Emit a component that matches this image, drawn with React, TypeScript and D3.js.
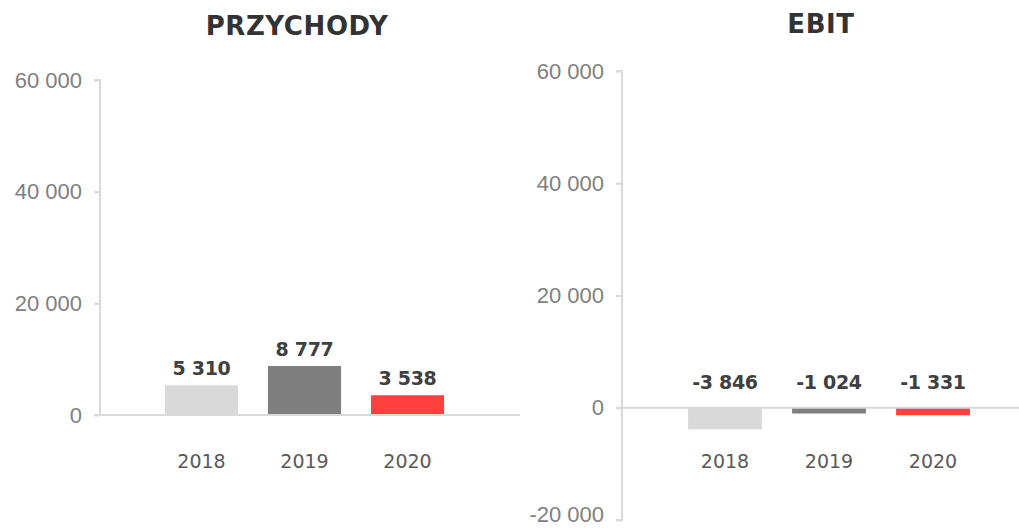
import React, { useEffect, useRef } from 'react'
import * as d3 from 'd3'

const years = ['2018', '2019', '2020']
const revenue = [5310, 8777, 3538]
const ebit = [-3846, -1024, -1331]
const revenueTicks = [0, 20000, 40000, 60000]
const ebitTicks = [-20000, 0, 20000, 40000, 60000]
const barColors = ['#d9d9d9', '#7f7f7f', '#ff4040']

const pl = d3.formatLocale({ decimal: ',', thousands: '\u00a0', grouping: [3], currency: ['', ''], minus: '-' })
const fmt = pl.format(',d')

const titleFont = '"DejaVu Sans", sans-serif'
const axisFont = '"Liberation Sans", Arial, sans-serif'

type PanelCfg = {
  title: string
  values: number[]
  ticks: number[]
  axisX: number
  yRange: [number, number]
  bandRange: [number, number]
  baseEnd: number
  titleX: number
  titleY: number
  labelGap: number
}

const App = () => {
  const svgRef = useRef<SVGSVGElement>(null)

  useEffect(() => {
    const svg = d3.select(svgRef.current)
    svg.selectAll('*').remove()

    const panels: PanelCfg[] = [
      { title: 'PRZYCHODY', values: revenue, ticks: revenueTicks, axisX: 100, yRange: [415, 80],
        bandRange: [150, 459], baseEnd: 520, titleX: 297, titleY: 35, labelGap: 10 },
      { title: 'EBIT', values: ebit, ticks: ebitTicks, axisX: 622, yRange: [520, 71],
        bandRange: [673, 985], baseEnd: 1019, titleX: 821, titleY: 33, labelGap: 19 },
    ]

    panels.forEach(p => {
      const y = d3.scaleLinear()
        .domain(d3.extent(p.ticks) as [number, number])
        .range(p.yRange)
      const x = d3.scaleBand<string>()
        .domain(years)
        .range(p.bandRange)
        .paddingInner(0.29)
        .paddingOuter(0.145)

      const g = svg.append('g')

      g.append('text')
        .attr('x', p.titleX)
        .attr('y', p.titleY)
        .attr('text-anchor', 'middle')
        .attr('font-family', titleFont)
        .attr('font-weight', 'bold')
        .attr('font-size', 26)
        .attr('letter-spacing', 0.6)
        .attr('fill', '#333')
        .text(p.title)

      // value axis
      const axis = d3.axisLeft(y)
        .tickValues(p.ticks)
        .tickSize(6)
        .tickPadding(12)
        .tickFormat(d => fmt(d as number))
      const ag = g.append('g')
        .attr('transform', `translate(${p.axisX},0)`)
        .call(axis)
      ag.select('.domain').attr('stroke', '#d9d9d9').attr('stroke-width', 2)
        .attr('d', `M-6,${p.yRange[1]}H0V${p.yRange[0]}H-6`)
      ag.selectAll('.tick line').attr('stroke', '#d9d9d9').attr('stroke-width', 2)
      ag.selectAll('.tick text')
        .attr('font-family', axisFont)
        .attr('font-size', 22)
        .attr('fill', '#808080')
      // lowest label sits on the page edge, keep it inside
      ag.selectAll('.tick text').filter(d => (d as number) < 0).attr('dy', '0.05em')

      // bars
      g.selectAll('rect.bar')
        .data(p.values)
        .enter().append('rect')
        .attr('class', 'bar')
        .attr('x', (d, i) => x(years[i]) as number)
        .attr('width', x.bandwidth())
        .attr('y', d => y(Math.max(0, d)))
        .attr('height', d => Math.abs(y(d) - y(0)))
        .attr('fill', (d, i) => barColors[i])

      // zero line
      g.append('line')
        .attr('x1', p.axisX - 6)
        .attr('x2', p.baseEnd)
        .attr('y1', y(0))
        .attr('y2', y(0))
        .attr('stroke', '#d9d9d9')
        .attr('stroke-width', 2)

      // data labels
      g.selectAll('text.val')
        .data(p.values)
        .enter().append('text')
        .attr('class', 'val')
        .attr('x', (d, i) => (x(years[i]) as number) + x.bandwidth() / 2)
        .attr('y', d => y(Math.max(0, d)) - p.labelGap)
        .attr('text-anchor', 'middle')
        .attr('font-family', titleFont)
        .attr('font-weight', 'bold')
        .attr('font-size', 19)
        .attr('letter-spacing', -0.3)
        .attr('fill', '#404040')
        .text(d => fmt(d))

      // category labels
      g.selectAll('text.cat')
        .data(years)
        .enter().append('text')
        .attr('class', 'cat')
        .attr('x', d => (x(d) as number) + x.bandwidth() / 2)
        .attr('y', 468)
        .attr('text-anchor', 'middle')
        .attr('font-family', titleFont)
        .attr('font-size', 19)
        .attr('fill', '#595959')
        .text(d => d)
    })
  }, [])

  return (
    <svg ref={svgRef} width={1019} height={528}
      style={{ position: 'absolute', left: 0, top: 0, background: '#fff' }} />
  )
}

export default App
